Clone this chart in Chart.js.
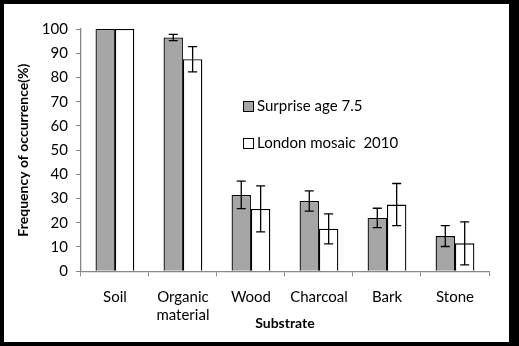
<!DOCTYPE html>
<html>
<head>
<meta charset="utf-8">
<script src="https://cdn.jsdelivr.net/npm/chart.js@4"></script>
<style>
  html, body { margin: 0; padding: 0; background: #000; }
  #wrap { position: absolute; left: 4px; top: 4px; width: 505px; height: 338px; background: #fff; }
</style>
</head>
<body>
<div id="wrap"><canvas id="chart"></canvas></div>
<script>
const categories = ['Soil', ['Organic', 'material'], 'Wood', 'Charcoal', 'Bark', 'Stone'];
const surpriseValues = [100, 96.5, 31.5, 29, 22, 14.5];
const surpriseErrors = [0, 1.3, 5.7, 4.2, 4, 4.3];
const londonValues = [100, 87.5, 25.7, 17.5, 27.5, 11.5];
const londonErrors = [0, 5.2, 9.5, 6.2, 8.7, 8.9];
const yTicks = [0, 10, 20, 30, 40, 50, 60, 70, 80, 90, 100];

const errors = [surpriseErrors, londonErrors];

// draws the error bars from the data arrays using the y scale
const errorBars = {
    id: 'errorBars',
    afterDatasetsDraw(chart) {
        const ctx = chart.ctx;
        const y = chart.scales.y;
        ctx.save();
        ctx.strokeStyle = '#000';
        ctx.lineWidth = 1.3;
        chart.data.datasets.forEach((ds, i) => {
            const meta = chart.getDatasetMeta(i);
            meta.data.forEach((bar, j) => {
                const err = errors[i][j];
                if (!err) return;
                const top = y.getPixelForValue(ds.data[j] + err);
                const bot = y.getPixelForValue(ds.data[j] - err);
                ctx.beginPath();
                ctx.moveTo(bar.x, top); ctx.lineTo(bar.x, bot);
                ctx.moveTo(bar.x - 4.5, top); ctx.lineTo(bar.x + 4.5, top);
                ctx.moveTo(bar.x - 4.5, bot); ctx.lineTo(bar.x + 4.5, bot);
                ctx.stroke();
            });
        });
        ctx.restore();
    }
};

// legend placed inside the plot like the original
const innerLegend = {
    id: 'innerLegend',
    afterDraw(chart) {
        const ctx = chart.ctx;
        ctx.save();
        ctx.font = '15px Lato, "Open Sans", sans-serif';
        ctx.textBaseline = 'middle';
        chart.data.datasets.forEach((ds, i) => {
            const x = 239, yy = 102 + i * 37;
            ctx.fillStyle = ds.backgroundColor;
            ctx.fillRect(x, yy - 5, 10, 10);
            ctx.strokeStyle = '#000';
            ctx.lineWidth = 1;
            ctx.strokeRect(x + 0.5, yy - 4.5, 10, 10);
            ctx.fillStyle = '#000';
            ctx.fillText(ds.label, x + 14, yy);
        });
        ctx.restore();
    }
};

new Chart(document.getElementById('chart'), {
    type: 'bar',
    data: {
        labels: categories,
        datasets: [
            {
                label: 'Surprise age 7.5',
                data: surpriseValues,
                backgroundColor: '#a6a6a6',
                borderColor: '#000',
                borderWidth: 1.3
            },
            {
                label: 'London mosaic  2010',
                data: londonValues,
                backgroundColor: '#ffffff',
                borderColor: '#000',
                borderWidth: 1.3
            }
        ]
    },
    plugins: [errorBars, innerLegend],
    options: {
        responsive: true,
        maintainAspectRatio: false,
        animation: false,
        layout: { padding: { top: 25, right: 20, left: 11, bottom: 10 } },
        datasets: { bar: { categoryPercentage: 0.57, barPercentage: 1 } },
        plugins: {
            legend: { display: false },
            tooltip: { enabled: false }
        },
        scales: {
            x: {
                grid: {
                    offset: true,
                    drawOnChartArea: false,
                    drawTicks: true,
                    tickLength: 5,
                    color: '#888'
                },
                border: { color: '#888', width: 1.3 },
                ticks: {
                    color: '#000',
                    font: { family: 'Lato, "Open Sans", sans-serif', size: 15 },
                    padding: 12,
                    maxRotation: 0
                },
                title: {
                    display: true,
                    text: 'Substrate',
                    color: '#000',
                    font: { family: 'Lato, "Open Sans", sans-serif', size: 14, weight: 'bold' },
                    padding: { top: -21, bottom: 0 }
                }
            },
            y: {
                min: 0,
                max: 100,
                afterBuildTicks(axis) {
                    axis.ticks = yTicks.map(v => ({ value: v }));
                },
                grid: {
                    drawOnChartArea: false,
                    drawTicks: true,
                    tickLength: 5,
                    color: '#888'
                },
                border: { color: '#888', width: 1.3 },
                ticks: {
                    color: '#000',
                    font: { family: 'Lato, "Open Sans", sans-serif', size: 15 },
                    padding: 8
                },
                title: {
                    display: true,
                    text: 'Frequency of occurrence(%)',
                    color: '#000',
                    font: { family: 'Lato, "Open Sans", sans-serif', size: 14, weight: 'bold' },
                    padding: { top: 0, bottom: 2 }
                }
            }
        }
    }
});
</script>
</body>
</html>
